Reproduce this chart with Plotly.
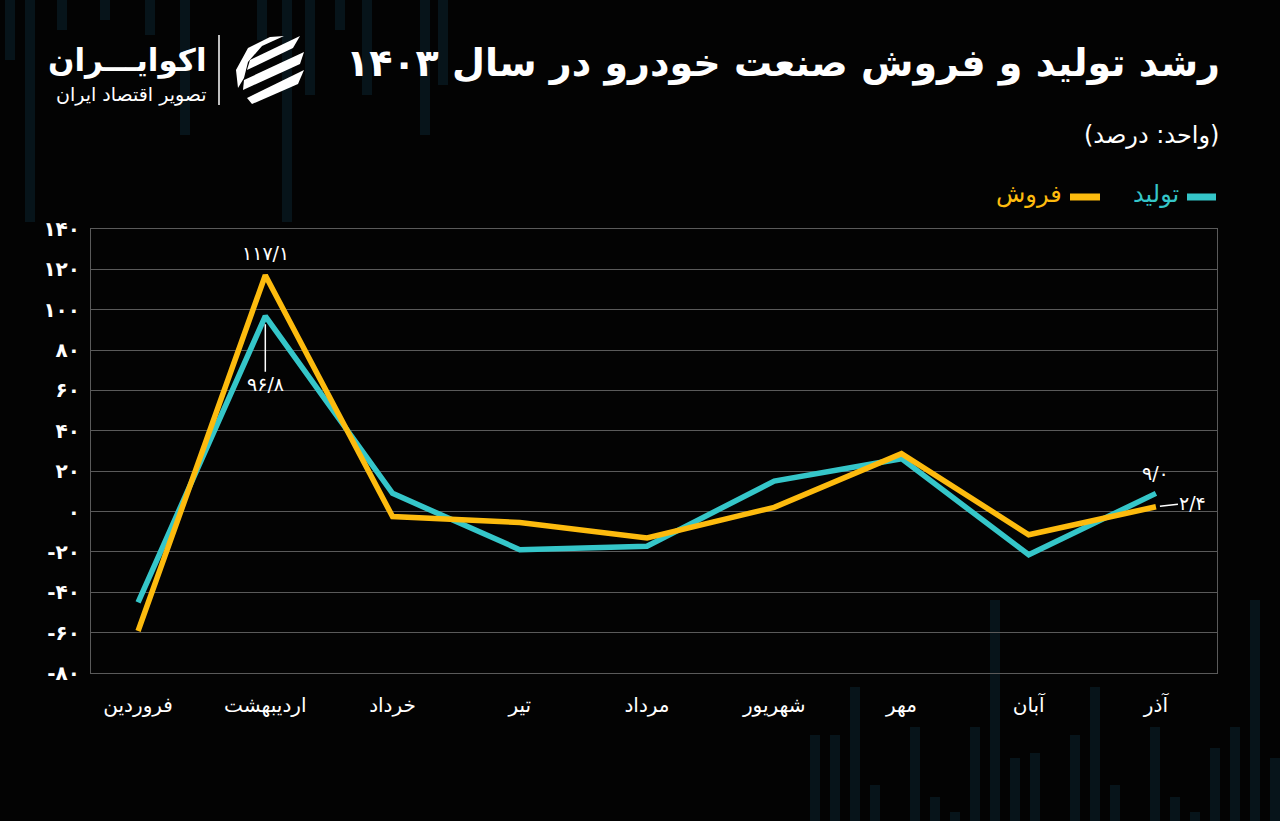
import plotly.graph_objects as go

months = ["فروردین", "اردیبهشت", "خرداد", "تیر", "مرداد", "شهریور", "مهر", "آبان", "آذر"]
production = [-45.0, 96.8, 9.0, -18.9, -17.2, 15.1, 26.2, -21.4, 9.0]
sales = [-59.2, 117.1, -2.5, -5.4, -13.1, 2.1, 28.7, -11.5, 2.4]
ytick_vals = [-80, -60, -40, -20, 0, 20, 40, 60, 80, 100, 120, 140]
ytick_text = ["-۸۰", "-۶۰", "-۴۰", "-۲۰", "۰", "۲۰", "۴۰", "۶۰", "۸۰", "۱۰۰", "۱۲۰", "۱۴۰"]

TEAL = "#35C6C9"
YELLOW = "#FDBB0E"
FONT = "DejaVu Sans"
RLM = "\u200f"

W, H = 1280, 821
L, R, T, B = 91, 1217, 229, 673


def px(x):
    return (x - L) / (R - L)


def py(y):
    return (B - y) / (B - T)


fig = go.Figure()
fig.add_trace(go.Scatter(x=list(range(len(months))), y=production, mode="lines",
                         line=dict(color=TEAL, width=5.5), name="تولید", showlegend=False))
fig.add_trace(go.Scatter(x=list(range(len(months))), y=sales, mode="lines",
                         line=dict(color=YELLOW, width=5.5), name="فروش", showlegend=False))

shapes = []
# decorative faint background bars
bar_col = "#07141a"
top_bars = [(10, 60), (30, 222), (62, 30), (105, 20), (150, 35), (185, 135), (262, 40),
            (287, 222), (310, 95), (340, 30), (367, 95), (425, 135), (443, 85)]
for x, h in top_bars:
    shapes.append(dict(type="rect", xref="paper", yref="paper", x0=px(x - 5), x1=px(x + 5),
                       y0=py(0), y1=py(h), fillcolor=bar_col, line=dict(width=0), layer="below"))
bottom_bars = [(815, 735), (835, 735), (855, 687), (875, 785), (915, 727), (935, 797), (955, 812),
               (975, 727), (995, 600), (1015, 758), (1035, 753), (1075, 735), (1095, 687),
               (1115, 785), (1155, 727), (1175, 797), (1195, 812), (1215, 748), (1235, 727),
               (1255, 600), (1275, 758)]
for x, top in bottom_bars:
    shapes.append(dict(type="rect", xref="paper", yref="paper", x0=px(x - 5), x1=px(x + 5),
                       y0=py(821), y1=py(top), fillcolor=bar_col, line=dict(width=0), layer="below"))

# legend line samples
shapes.append(dict(type="line", xref="paper", yref="paper", x0=px(1187), x1=px(1216),
                   y0=py(197), y1=py(197), line=dict(color=TEAL, width=7)))
shapes.append(dict(type="line", xref="paper", yref="paper", x0=px(1070), x1=px(1100),
                   y0=py(197), y1=py(197), line=dict(color=YELLOW, width=7)))

# logo divider
shapes.append(dict(type="line", xref="paper", yref="paper", x0=px(219), x1=px(219),
                   y0=py(35), y1=py(105), line=dict(color="white", width=1.5)))


# logo icon (simplified)
def path(points):
    s = "M " + " L ".join(f"{px(a):.5f},{py(b):.5f}" for a, b in points) + " Z"
    return s


icon = [
    [(250, 60), (300, 36), (293, 48), (247, 70)],
    [(244, 80), (304, 52), (300, 64), (243, 90)],
    [(247, 98), (304, 70), (298, 84), (252, 104)],
    [(238, 88), (236, 70), (248, 48), (270, 37), (284, 36), (262, 46), (248, 62), (244, 78)],
]
for pts in icon:
    shapes.append(dict(type="path", xref="paper", yref="paper", path=path(pts),
                       fillcolor="white", line=dict(width=0)))

annotations = [
    dict(text=RLM + "رشد تولید و فروش صنعت خودرو در سال ۱۴۰۳" + RLM, xref="paper", yref="paper",
         x=px(1222), y=py(64), xanchor="right", yanchor="middle", showarrow=False,
         font=dict(family=FONT, size=38, color="white", weight="bold")),
    dict(text=RLM + "(واحد: درصد)" + RLM, xref="paper", yref="paper",
         x=px(1221), y=py(135), xanchor="right", yanchor="middle", showarrow=False,
         font=dict(family=FONT, size=24, color="white")),
    dict(text="تولید", xref="paper", yref="paper", x=px(1181), y=py(194), xanchor="right",
         yanchor="middle", showarrow=False, font=dict(family=FONT, size=24, color=TEAL)),
    dict(text="فروش", xref="paper", yref="paper", x=px(1064), y=py(194), xanchor="right",
         yanchor="middle", showarrow=False, font=dict(family=FONT, size=24, color=YELLOW)),
    dict(text="اکوایـــران", xref="paper", yref="paper", x=px(209), y=py(60), xanchor="right",
         yanchor="middle", showarrow=False, font=dict(family=FONT, size=31, color="white", weight="bold")),
    dict(text="تصویر اقتصاد ایران", xref="paper", yref="paper", x=px(209), y=py(94), xanchor="right",
         yanchor="middle", showarrow=False, font=dict(family=FONT, size=19, color="white")),
    # value labels
    dict(text="۱۱۷/۱", x=1, y=sales[1], xref="x", yref="y", showarrow=False, yshift=22,
         font=dict(family=FONT, size=19, color="white")),
    dict(text="۹۶/۸", x=1, y=production[1], xref="x", yref="y", showarrow=True, arrowhead=0,
         arrowwidth=1.5, arrowcolor="white", ax=0, ay=68, standoff=8,
         font=dict(family=FONT, size=19, color="white")),
    dict(text="۹/۰", x=8, y=production[8], xref="x", yref="y", showarrow=False, yshift=20,
         font=dict(family=FONT, size=19, color="white")),
    dict(text="۲/۴", x=8, y=sales[8], xref="x", yref="y", showarrow=True, arrowhead=0,
         arrowwidth=1.5, arrowcolor="white", ax=37, ay=-4, standoff=4,
         font=dict(family=FONT, size=19, color="white")),
]

fig.update_layout(
    width=W, height=H,
    margin=dict(l=L, r=W - R, t=T, b=H - B, pad=0),
    paper_bgcolor="#030303", plot_bgcolor="#030303",
    shapes=shapes, annotations=annotations, showlegend=False,
    xaxis=dict(tickmode="array", tickvals=list(range(len(months))), ticktext=months,
               range=[-0.37, 8.48], showgrid=False, zeroline=False, showline=True, mirror=True,
               linecolor="#5a5a5a", linewidth=1, ticks="", ticklabelstandoff=14,
               tickfont=dict(family=FONT, size=20, color="white")),
    yaxis=dict(tickmode="array", tickvals=ytick_vals, ticktext=ytick_text, range=[-80, 140],
               showgrid=True, gridcolor="#5a5a5a", gridwidth=1, zeroline=False, showline=True,
               mirror=True, linecolor="#5a5a5a", linewidth=1, ticks="", ticklabelstandoff=6,
               tickfont=dict(family=FONT, size=20, color="white", weight="bold")),
)

fig.write_html("out.html")
